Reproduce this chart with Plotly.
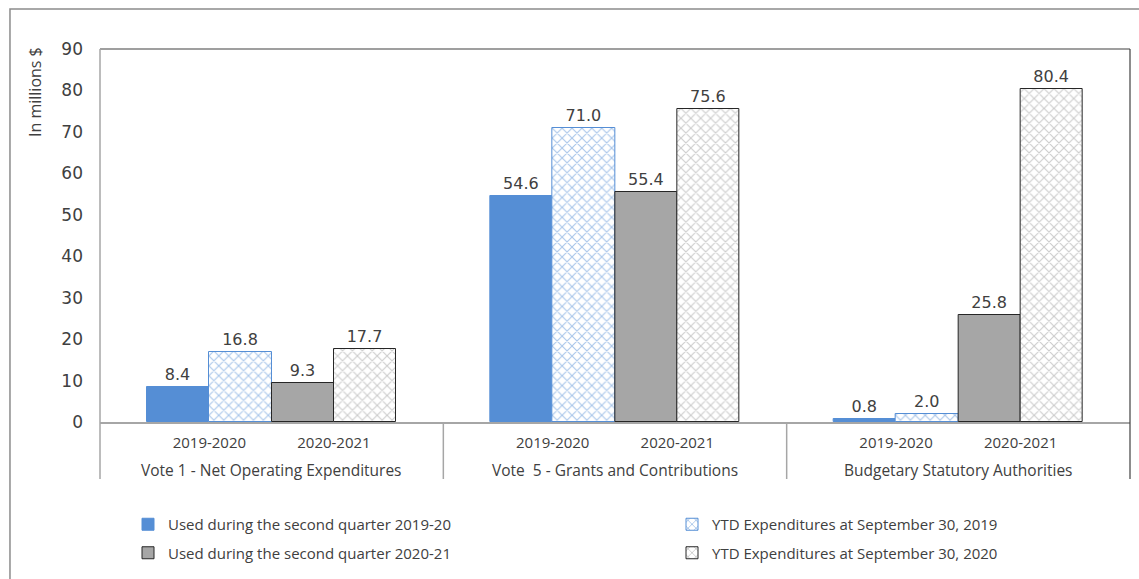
import plotly.graph_objects as go
from plotly.subplots import make_subplots

# ---- data ----
groups = ["Vote 1 - Net Operating Expenditures",
          "Vote\u00a0 5 - Grants and Contributions",
          "Budgetary Statutory Authorities"]
years = ["2019-2020", "2020-2021"]
q_2019 = [8.4, 54.6, 0.8]
ytd_2019 = [16.8, 71.0, 2.0]
q_2020 = [9.3, 55.4, 25.8]
ytd_2020 = [17.7, 75.6, 80.4]
names = ["Used during the second quarter 2019-20",
         "YTD Expenditures at September 30, 2019",
         "Used during the second quarter 2020-21",
         "YTD Expenditures at September 30, 2020"]

FONT = "Open Sans"
NUMFONT = "DejaVu Sans"
TXT = "#404040"
BLUE = "#558ED5"
GRAY = "#A6A6A6"
DARK = "#262626"

fig = make_subplots(rows=1, cols=3, shared_yaxes=True, horizontal_spacing=0)

series = [
    (names[0], years[0], q_2019, "q", dict(color=BLUE, line=dict(color=BLUE, width=1)), "legend"),
    (names[1], years[0], ytd_2019, "ytd", dict(color="white", line=dict(color=BLUE, width=1),
                                               pattern=dict(shape="x", fgcolor=BLUE, bgcolor="white", size=7, solidity=0.3)), "legend2"),
    (names[2], years[1], q_2020, "q", dict(color=GRAY, line=dict(color=DARK, width=1)), "legend"),
    (names[3], years[1], ytd_2020, "ytd", dict(color="white", line=dict(color=DARK, width=1),
                                               pattern=dict(shape="x", fgcolor="#9A9A9A", bgcolor="white", size=7, solidity=0.3)), "legend2"),
]

for gi in range(len(groups)):
    for k, (nm, yr, vals, og, mk, lg) in enumerate(series):
        fig.add_trace(go.Bar(
            x=[yr], y=[vals[gi]], name=nm, offsetgroup=og, marker=mk,
            legendgroup=nm, showlegend=(gi == 0), legend=lg,
            text=[f"{vals[gi]:.1f}"], textposition="outside",
            textfont=dict(family=NUMFONT, size=16, color=TXT), cliponaxis=False,
        ), row=1, col=gi + 1)

a = 0.378
for i in range(1, 4):
    fig.update_xaxes(row=1, col=i, type="category", categoryorder="array", categoryarray=years,
                     range=[-0.5 - a, 1.5 + a], showline=True, linecolor="#A6A6A6", linewidth=1.5,
                     ticks="", ticklabelstandoff=6, showgrid=False, zeroline=False,
                     tickfont=dict(family=FONT, size=15, color=TXT))
    fig.update_yaxes(row=1, col=i, range=[0, 90], dtick=10, showgrid=False, zeroline=False,
                     showline=False)
fig.update_yaxes(row=1, col=1, tickfont=dict(family=NUMFONT, size=17, color=TXT), ticklabelstandoff=16)

# ---- frame lines ----
ybot = (422 - 479) / 373
shapes = [
    dict(type="rect", xref="paper", yref="paper", x0=-0.0874, x1=1.02, y0=-0.6, y1=1.107,
         line=dict(color="#8C8C8C", width=1.5), layer="below"),
    dict(type="line", xref="paper", yref="paper", x0=0, x1=1, y0=1, y1=1, line=dict(color="#404040", width=1.2)),
    dict(type="line", xref="paper", yref="paper", x0=1, x1=1, y0=ybot, y1=1, line=dict(color="#404040", width=1.2)),
    dict(type="line", xref="paper", yref="paper", x0=0, x1=0, y0=ybot, y1=1, line=dict(color="#A6A6A6", width=1.5)),
]
for xs in (1 / 3, 2 / 3):
    shapes.append(dict(type="line", xref="paper", yref="paper", x0=xs, x1=xs, y0=ybot, y1=0,
                       line=dict(color="#A6A6A6", width=1.5)))

annotations = [
    dict(text="In millions $", textangle=-90, xref="paper", yref="paper",
         x=(35 - 100) / 1030, y=(422 - 92) / 373, showarrow=False,
         font=dict(family=FONT, size=16, color=TXT), xanchor="center", yanchor="middle"),
]
for gi, g in enumerate(groups):
    annotations.append(dict(text=g, xref="paper", yref="paper", x=(gi + 0.5) / 3, y=(422 - 470) / 373,
                            showarrow=False, font=dict(family=FONT, size=15.5, color=TXT),
                            xanchor="center", yanchor="middle"))

fig.update_layout(
    width=1139, height=579,
    margin=dict(l=100, r=9, t=49, b=157),
    paper_bgcolor="white", plot_bgcolor="white",
    barmode="group", bargap=0, bargroupgap=0,
    shapes=shapes, annotations=annotations,
    legend=dict(x=(128 - 100) / 1030, y=(422 - 508) / 373, xanchor="left", yanchor="top",
                orientation="v", traceorder="grouped", tracegroupgap=6,
                font=dict(family=FONT, size=15, color=TXT), bgcolor="rgba(0,0,0,0)"),
    legend2=dict(x=(672 - 100) / 1030, y=(422 - 508) / 373, xanchor="left", yanchor="top",
                 orientation="v", traceorder="grouped", tracegroupgap=6,
                 font=dict(family=FONT, size=15, color=TXT), bgcolor="rgba(0,0,0,0)"),
)

fig.write_html("out.html")
